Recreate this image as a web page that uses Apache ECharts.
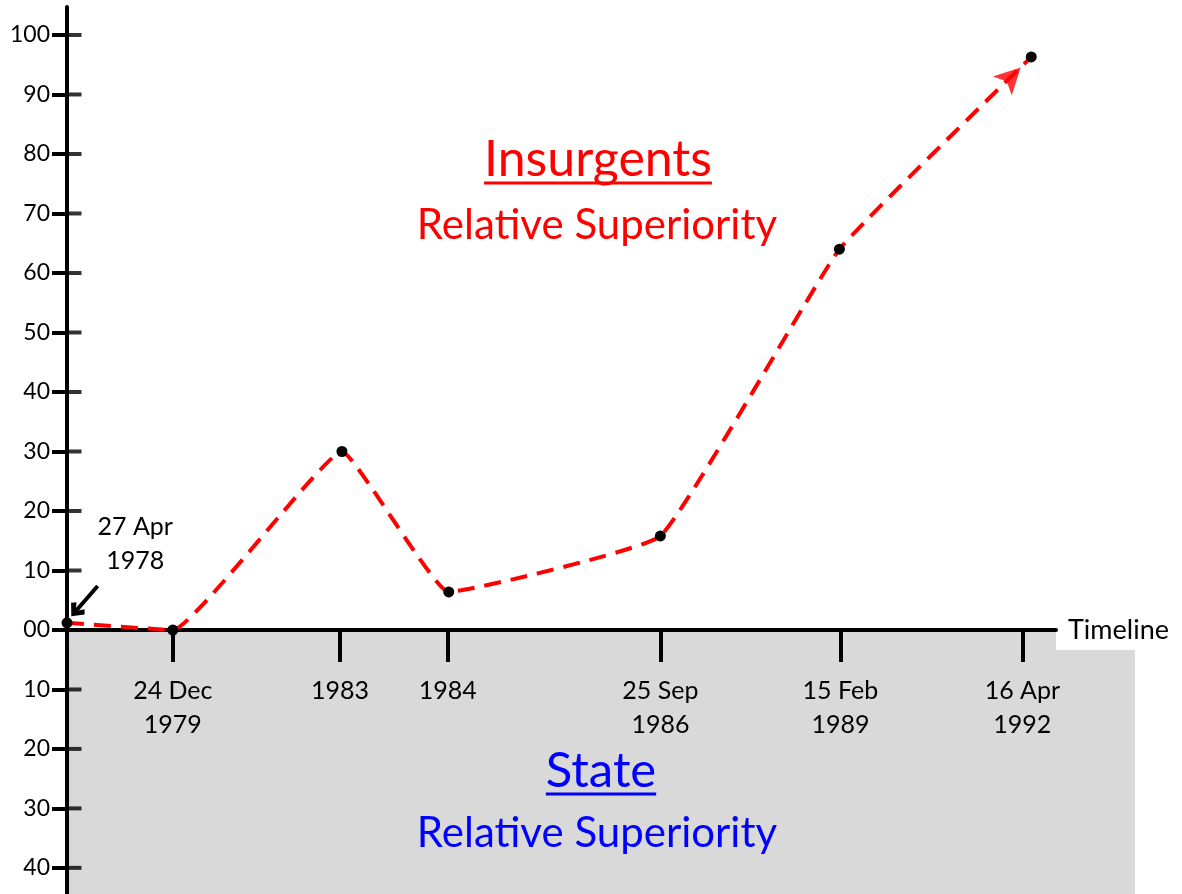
<!DOCTYPE html>
<html>
<head>
<meta charset="utf-8">
<title>Relative Superiority</title>
<script src="https://cdn.jsdelivr.net/npm/echarts@6/dist/echarts.min.js"></script>
<style>
    html, body { margin: 0; padding: 0; background: #fff; }
    #main { width: 1182px; height: 894px; }
</style>
</head>
<body>
<div id="main"></div>
<script type="text/javascript">
    // timeline is schematic: positions 0..100 along the axis, not proportional to time
    var dateLabels = ['24 Dec\n1979', '1983', '1984', '25 Sep\n1986', '15 Feb\n1989', '16 Apr\n1992'];
    var datePos = [10.7, 27.6, 38.5, 60.0, 78.2, 96.6];
    var startLabel = '27 Apr\n1978';

    // relative superiority (+ insurgents, - state)
    var pointPos = [0, 10.7, 27.8, 38.6, 60.0, 78.1, 97.5];
    var superiority = [1.2, 0, 30, 6.4, 15.8, 64.0, 96.3];

    var upTicks = [0, 10, 20, 30, 40, 50, 60, 70, 80, 90, 100];
    var downTicks = [-40, -30, -20, -10];

    var FONT = 'Lato, "DejaVu Sans", sans-serif';
    var RED = '#ff0000', BLUE = '#0000ff';

    var points = pointPos.map(function (x, i) { return [x, superiority[i]]; });

    function yLabel(v) {
        return v === 0 ? '00' : String(Math.abs(v));
    }
    function xLabel(v) {
        var i = datePos.indexOf(v);
        return i < 0 ? '' : dateLabels[i];
    }

    var tickStyle = { color: '#000', width: 4 };

    function yAxisFor(grid, min, max, ticks) {
        return {
            type: 'value', gridIndex: grid, min: min, max: max,
            splitLine: { show: false },
            axisLine: { show: true, onZero: false, lineStyle: tickStyle },
            axisTick: { show: true, length: 15, lineStyle: tickStyle, customValues: ticks },
            axisLabel: { customValues: ticks, formatter: yLabel, margin: 17, fontFamily: FONT, fontSize: 23, color: '#000' }
        };
    }

    // right-hand halves of the y ticks (the axis only draws one side)
    function innerTicks(grid, ticks) {
        return {
            type: 'scatter',
            xAxisIndex: grid,
            yAxisIndex: grid,
            data: ticks.map(function (v) { return [0, v]; }),
            symbol: 'rect',
            symbolSize: [15, 4],
            symbolOffset: [7, 0],
            itemStyle: { color: '#000' },
            clip: false,
            silent: true,
            z: 1
        };
    }

    var chart = echarts.init(document.getElementById('main'));

    var option = {
        backgroundColor: '#fff',
        animation: false,
        grid: [
            { left: 67, right: 126, top: 7, height: 623, outerBoundsMode: 'none' },
            { left: 67, right: 126, top: 630, bottom: 0, outerBoundsMode: 'none' }
        ],
        xAxis: [{
            type: 'value',
            gridIndex: 0,
            min: 0,
            max: 100,
            splitLine: { show: false },
            axisLine: { onZero: false, lineStyle: tickStyle },
            axisTick: { show: true, length: 32, lineStyle: tickStyle, customValues: datePos },
            axisLabel: {
                customValues: datePos,
                formatter: xLabel,
                margin: 44,
                fontFamily: FONT,
                fontSize: 25,
                lineHeight: 34,
                color: '#000'
            },
            name: 'Timeline',
            nameLocation: 'end',
            nameGap: 0,
            nameTextStyle: {
                fontFamily: FONT,
                fontSize: 27,
                color: '#000',
                backgroundColor: '#fff',
                padding: [7, 12, 6, 12]
            }
        }, {
            type: 'value',
            gridIndex: 1,
            min: 0,
            max: 100,
            show: false
        }],
        yAxis: [yAxisFor(0, 0, 104.7, upTicks), yAxisFor(1, -44.4, 0, downTicks)],
        series: [{
            name: 'superiority',
            type: 'line',
            xAxisIndex: 0,
            yAxisIndex: 0,
            data: points,
            clip: false,
            smooth: 0.1,
            symbol: 'circle',
            symbolSize: 11,
            itemStyle: { color: '#000' },
            lineStyle: { color: RED, width: 4, type: [17, 10] },
            z: 3,
            markLine: {
                silent: true,
                symbol: ['none', 'path://M0,10 L10,0 L20,10 L16,14 L10,7 L4,14 Z'],
                symbolSize: [18, 14],
                lineStyle: { color: '#000', width: 4, type: 'solid' },
                label: { show: false },
                data: [[{ coord: [3.1, 7.4] }, { coord: [0.9, 3.2] }]]
            },
            markPoint: {
                silent: true,
                symbol: 'circle',
                symbolSize: 0,
                label: {
                    show: true,
                    formatter: startLabel,
                    fontFamily: FONT,
                    fontSize: 25,
                    lineHeight: 34,
                    color: '#000'
                },
                data: [{ coord: [6.9, 14.5] }]
            }
        }, innerTicks(0, upTicks), innerTicks(1, downTicks)]
    };

    chart.setOption(option);

    // arrow head on the last segment, rotated along it
    var n = points.length;
    var pa = chart.convertToPixel({ seriesIndex: 0 }, points[n - 2]);
    var pb = chart.convertToPixel({ seriesIndex: 0 }, points[n - 1]);
    var dx = pb[0] - pa[0], dy = pb[1] - pa[1];
    var len = Math.sqrt(dx * dx + dy * dy);
    var ang = Math.atan2(-dy, dx) * 180 / Math.PI;
    var arrowLen = 26;
    var back = arrowLen / 2 + 2;

    // text helpers
    var ctx = document.createElement('canvas').getContext('2d');
    function textWidth(t, size) {
        ctx.font = size + 'px ' + FONT;
        return ctx.measureText(t).width;
    }

    var zero = chart.convertToPixel({ xAxisIndex: 0, yAxisIndex: 0 }, [0, 0]);

    var titles = [
        { text: 'Insurgents', x: 598, y: 160, size: 50, color: RED, underline: 183 },
        { text: 'Relative Superiority', x: 597, y: 225, size: 42, color: RED },
        { text: 'State', x: 601, y: 771, size: 49, color: BLUE, underline: 794 },
        { text: 'Relative Superiority', x: 597, y: 833, size: 42, color: BLUE }
    ];
    var graphics = [{
        type: 'rect',
        z: -10,
        silent: true,
        shape: { x: zero[0], y: zero[1], width: 1135 - zero[0], height: 894 - zero[1] },
        style: { fill: '#d9d9d9' }
    }];
    titles.forEach(function (t) {
        graphics.push({
            type: 'text',
            x: t.x,
            y: t.y,
            silent: true,
            style: {
                text: t.text,
                fill: t.color,
                font: t.size + 'px ' + FONT,
                align: 'center',
                verticalAlign: 'middle'
            }
        });
        if (t.underline) {
            var w = textWidth(t.text, t.size);
            graphics.push({
                type: 'line',
                silent: true,
                shape: { x1: t.x - w / 2, y1: t.underline, x2: t.x + w / 2, y2: t.underline },
                style: { stroke: t.color, lineWidth: 3 }
            });
        }
    });

    chart.setOption({
        graphic: graphics,
        series: [{}, {}, {}, {
            name: 'arrow',
            type: 'scatter',
            xAxisIndex: 0,
            yAxisIndex: 0,
            data: [points[n - 1]],
            symbol: 'arrow',
            symbolSize: [20, arrowLen],
            symbolRotate: ang - 90,
            symbolOffset: [-dx / len * back, -dy / len * back],
            itemStyle: { color: RED },
            silent: true,
            z: 4
        }]
    });
</script>
</body>
</html>
